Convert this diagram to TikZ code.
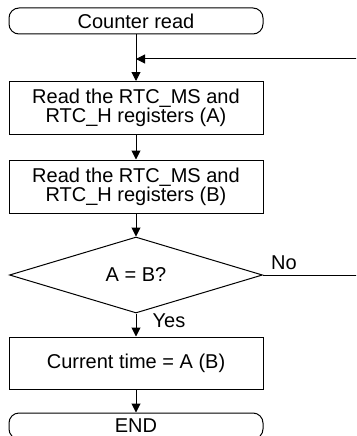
\documentclass[tikz,border=0pt]{standalone}
\usepackage{fontspec}
\setmainfont{Liberation Sans}
\usetikzlibrary{shapes.geometric,arrows.meta}
\begin{document}
\begin{tikzpicture}[x=1pt,y=-1pt,
  every node/.style={font=\fontsize{20}{19}\selectfont},
  term/.style={draw, line width=1pt, rounded corners=10pt, minimum width=254pt, minimum height=26pt, inner sep=0pt},
  procbox/.style={draw, line width=1pt, minimum width=254pt, inner sep=0pt, align=center},
  decision/.style={draw, diamond, line width=1pt, minimum width=253pt, minimum height=76pt, inner sep=0pt},
  flow/.style={line width=1pt, -{Triangle[length=9pt,width=9pt]}},
  plainline/.style={line width=1pt},
  lbl/.style={inner sep=0pt}]
\clip (0,0) rectangle (356,436);
\node[term] (start) at (136,21) {Counter read};
\node[procbox, minimum height=53pt] (ra) at (136,108) {Read the RTC\_MS and\\RTC\_H registers (A)};
\node[procbox, minimum height=53pt] (rb) at (136,186.5) {Read the RTC\_MS and\\RTC\_H registers (B)};
\node[decision] (dec) at (136,275) {A = B?};
\node[procbox, minimum height=52pt] (rc) at (136,363) {Current time = A (B)};
\node[term] (fin) at (136,426) {END};
\node[lbl] (no) at (284,263) {No};
\node[lbl] (yes) at (169,321) {Yes};
\coordinate (join) at (136,59);
\coordinate (loopin) at (357,59);
\coordinate (noend) at (357,275);
\draw[flow] (start) -- (ra);
\draw[flow] (loopin) -- (join);
\draw[flow] (ra) -- (rb);
\draw[flow] (rb) -- (dec);
\draw[flow] (dec) -- (rc);
\draw[flow] (rc) -- (fin);
\draw[plainline] (dec.east) -- (noend);
\end{tikzpicture}
\end{document}
